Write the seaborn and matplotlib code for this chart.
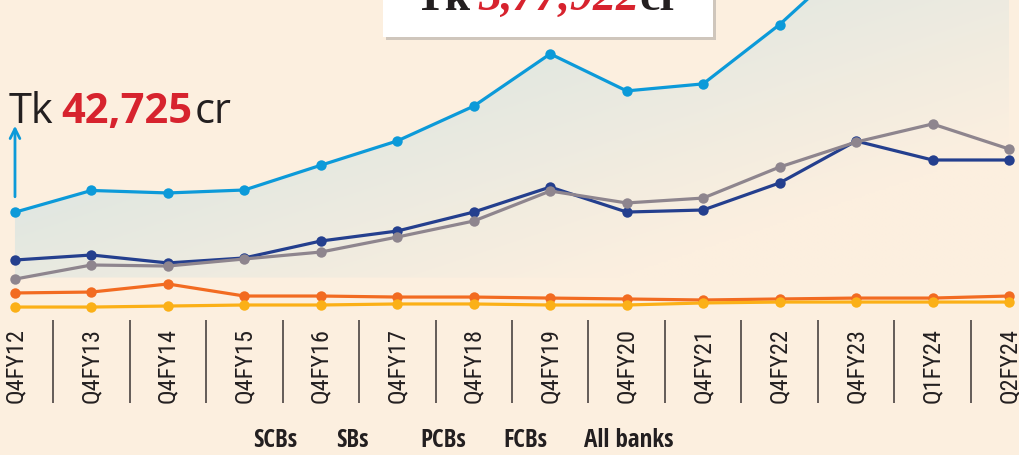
import numpy as np
import pandas as pd
import matplotlib
matplotlib.use("Agg")
import matplotlib.pyplot as plt
from matplotlib.patches import Rectangle
from matplotlib import font_manager as fm
import seaborn as sns

# Quarterly non-performing loans, Tk crore
quarters = ["Q4FY12", "Q4FY13", "Q4FY14", "Q4FY15", "Q4FY16", "Q4FY17", "Q4FY18",
            "Q4FY19", "Q4FY20", "Q4FY21", "Q4FY22", "Q4FY23", "Q1FY24", "Q2FY24"]
scbs = [21700, 23900, 20400, 22600, 30050, 34450, 42800, 53800, 42800, 43700, 55600, 74050, 65700, 65700]
sbs = [7200, 7600, 11150, 5850, 5850, 5400, 5400, 4950, 4550, 4100, 4550, 4950, 4950, 5850]
pcbs = [13300, 19500, 19050, 22150, 25200, 31800, 38850, 52050, 46800, 48950, 62600, 73600, 81550, 70550]
fcbs = [1000, 1000, 1450, 1900, 1900, 2350, 2350, 1900, 1900, 2800, 3200, 3200, 3200, 3200]
all_banks = [42725, 52300, 51200, 52500, 63400, 74100, 89400, 112400, 96100, 99200, 125300, 156000, 155400, 145633]

series_names = ["SCBs", "SBs", "PCBs", "FCBs", "All banks"]
colors = {"SCBs": "#243f8e", "SBs": "#f26b21", "PCBs": "#8e858e",
          "FCBs": "#fbb017", "All banks": "#0c9ad9"}

bg = "#fcefdf"
x = np.arange(len(quarters))
df = pd.DataFrame({"SCBs": scbs, "SBs": sbs, "PCBs": pcbs, "FCBs": fcbs, "All banks": all_banks})
df["x"] = x

sns.set_style("white")


def condensed_font(weight):
    # look for a condensed face on the system, else plain Liberation Sans
    best = None
    for f in fm.fontManager.ttflist:
        base = f.fname.lower()
        is_cond = ("condensed" in base or "narrow" in base or f.stretch in ("condensed", "semi-condensed"))
        if not is_cond or "extra" in base or "ultra" in base or f.style != "normal":
            continue
        w = f.weight if isinstance(f.weight, int) else (700 if f.weight == "bold" else 400)
        if abs(w - weight) > 50:
            continue
        score = 0 if ("noto" in base or "roboto" in base or "open" in base) else 1
        if best is None or score < best[0]:
            best = (score, f.fname)
    if best:
        return fm.FontProperties(fname=best[1])
    return fm.FontProperties(family="Liberation Sans", weight=weight)


reg_fp = condensed_font(400)
bold_fp = condensed_font(700)

fig = plt.figure(figsize=(10.2, 4.55), dpi=100, facecolor=bg)
ax = fig.add_axes([0, 135 / 455, 1, 320 / 455])
ax.set_facecolor(bg)
ax.set_xlim(-0.196, 13.144)
ax.set_ylim(-4700, 136100)

# gradient shading under the All banks line
fill = ax.fill_between(x, 14000, all_banks, color="none", lw=0)
teal = np.array([214, 228, 226]) / 255
base = np.array([252, 239, 223]) / 255
gx, gy = np.meshgrid(np.linspace(0, 1, 300), np.linspace(0, 1, 200))
t = np.clip(0.9 * gx + 0.85 * gy - 0.28, 0, 1)[..., None]
grad = teal * (1 - t) + base * t
img = ax.imshow(grad, extent=[-0.196, 13.144, -4700, 136100], origin="upper",
                aspect="auto", zorder=1)
img.set_clip_path(fill.get_paths()[0], transform=ax.transData)

for i, name in enumerate(series_names):
    sns.lineplot(data=df, x="x", y=name, ax=ax, color=colors[name], lw=2.3,
                 marker="o", markersize=7.5, markeredgewidth=0,
                 zorder=3 + i, legend=False)

ax.set_xlabel("")
ax.set_ylabel("")
ax.set_yticks([])
ax.set_xticks(x)
ax.set_xticklabels(quarters, rotation=90, color="#231f20")
ax.set_xticks(x[:-1] + 0.5, minor=True)
ax.tick_params(axis="x", which="major", bottom=False, length=0, pad=6)
ax.tick_params(axis="x", which="minor", bottom=True, length=60, width=1.1,
               color="#3a3434", direction="out")
for s in ax.spines.values():
    s.set_visible(False)

renderer = fig.canvas.get_renderer()

# size tick labels so 'Q4FY12' spans ~74px
for lab in ax.get_xticklabels():
    lab.set_fontproperties(reg_fp)
    lab.set_fontsize(16)
lab0 = ax.get_xticklabels()[0]
h = lab0.get_window_extent(renderer).height
for lab in ax.get_xticklabels():
    lab.set_fontsize(16 * 75 / h)


def chain(parts, x0, y0):
    # place text pieces one after another on a shared baseline
    xp = x0
    for txt, gap, kw in parts:
        xp += gap
        tt = fig.text(xp / 1020, (455 - y0) / 455, txt, va="baseline", **kw)
        xp = tt.get_window_extent(renderer).x1
    return xp


# start value callout with arrow
ax.annotate("", xy=(0, 82000), xytext=(0, 48300),
            arrowprops=dict(arrowstyle="->,head_length=0.7,head_width=0.35",
                            color="#0c9ad9", lw=2), zorder=10)
chain([("Tk", 0, dict(fontsize=30, color="#231f20", family="Open Sans")),
       ("42,725", 8, dict(fontsize=30, color="#d7232e", fontweight="bold", family="Open Sans")),
       ("cr", 2, dict(fontsize=30, color="#231f20", family="Open Sans"))], 9, 123)

# end value box, cut by the top edge
fig.patches.append(Rectangle((386 / 1020, (455 - 40) / 455), 330 / 1020, 0.2,
                             transform=fig.transFigure, facecolor="#cfc6bc", edgecolor="none",
                             zorder=20))
fig.patches.append(Rectangle((383 / 1020, (455 - 37) / 455), 330 / 1020, 0.2,
                             transform=fig.transFigure, facecolor="white", edgecolor="none",
                             zorder=21))
chain([("Tk", 0, dict(fontsize=33, color="#231f20", fontweight="bold",
                      family="Liberation Serif", zorder=22)),
       ("3,77,922", 8, dict(fontsize=33, color="#d7232e", fontweight="bold", style="italic",
                            family="Liberation Serif", zorder=22)),
       ("cr", 0, dict(fontsize=33, color="#231f20", fontweight="bold",
                      family="Liberation Serif", zorder=22))], 414, 10)

# legend labels along the bottom
legend_x = [275, 352, 443, 525, 629]
for name, lx in zip(series_names, legend_x):
    tt = fig.text(lx / 1020, (455 - 447) / 455, name, fontproperties=bold_fp,
                  color="#231f20", ha="center", va="baseline")
    tt.set_fontsize(18)

fig.savefig("out.png", dpi=100, facecolor=bg)
